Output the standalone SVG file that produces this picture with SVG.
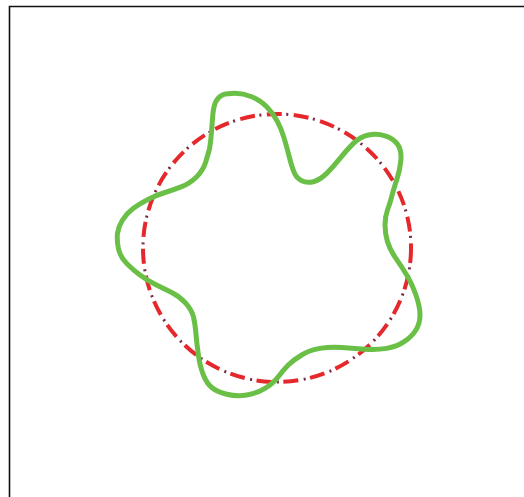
<svg xmlns="http://www.w3.org/2000/svg" width="524" height="497" viewBox="0 0 524 497">
<style>
.frame{fill:none;stroke:#111;stroke-width:1.6}
.dash{fill:none;stroke:#e5282c;stroke-width:4;stroke-dasharray:15 12}
.dot{fill:none;stroke:#7a2a45;stroke-width:3;stroke-dasharray:2 25;stroke-dashoffset:-19.5}
.wave{fill:none;stroke:#6abf46;stroke-width:5;stroke-linejoin:round}
</style>
<rect width="524" height="497" fill="#fff"/>
<path class="frame" d="M9.5,497 V6.5 H524"/>
<g id="reference-circle">
<circle class="dash" cx="277" cy="248" r="134"/>
<circle class="dot" cx="277" cy="248" r="134"/>
</g>
<g id="wavy-curve">
<path class="wave" d="M209.2,150 Q210,146.7 210.9,138.4 Q211.7,130 212.5,118.4 Q213.3,106.7 215.8,101.7 Q218.3,96.7 222.5,95 Q226.7,93.3 235,93.3 Q243.3,93.3 251.7,96.7 Q260,100 266.7,106.7 Q273.3,113.3 277.5,121.7 Q281.7,130 284.2,138.4 Q286.7,146.7 289.2,156.7 Q291.7,166.7 294.2,172.5 Q296.7,178.3 301.7,180.8 Q306.7,183.3 313.4,181.7 Q320,180 326.7,173.4 Q333.3,166.7 340,158.4 Q346.7,150 353.4,143.4 Q360,136.7 368.4,135 Q376.7,133.3 385,135.8 Q393.3,138.3 397.5,144.2 Q401.7,150 400.9,160 Q400,170 396.7,180 Q393.3,190 391.7,196.7 Q390,203.3 387.5,210 Q385,216.7 385,225 Q385,233.3 387.5,241.7 Q390,250 395.9,258.4 Q401.7,266.7 406.7,275 Q411.7,283.3 415.9,295 Q420,306.7 420,315 Q420,323.3 415.9,330 Q411.7,336.7 404.2,341.7 Q396.7,346.7 386.7,348.4 Q376.7,350 365,349.2 Q353.3,348.3 341.7,347.5 Q330,346.7 320,348.4 Q310,350 301.7,355 Q293.3,360 288.3,365 Q283.3,370 278.3,376.7 Q273.3,383.3 265,388.3 Q256.7,393.3 246.7,395 Q236.7,396.7 226.7,394.2 Q216.7,391.7 211.7,387.5 Q206.7,383.3 203.4,375 Q200,366.7 198.4,355 Q196.7,343.3 195.9,333.3 Q195,323.3 193.4,316.7 Q191.7,310 185.9,303.4 Q180,296.7 171.7,292.5 Q163.3,288.3 155,284.2 Q146.7,280 140,275 Q133.3,270 126.7,263.4 Q120,256.7 118.4,248.4 Q116.7,240 117.5,233.4 Q118.3,226.7 122.5,220 Q126.7,213.3 133.4,208.3 Q140,203.3 148.4,199.2 Q156.7,195 165,192.5 Q173.3,190 181.7,186.7 Q190,183.3 196.7,176.7 Q203.3,170 205.8,161.7 Q208.3,153.3 209.2,150 Z"/>
</g>
</svg>
